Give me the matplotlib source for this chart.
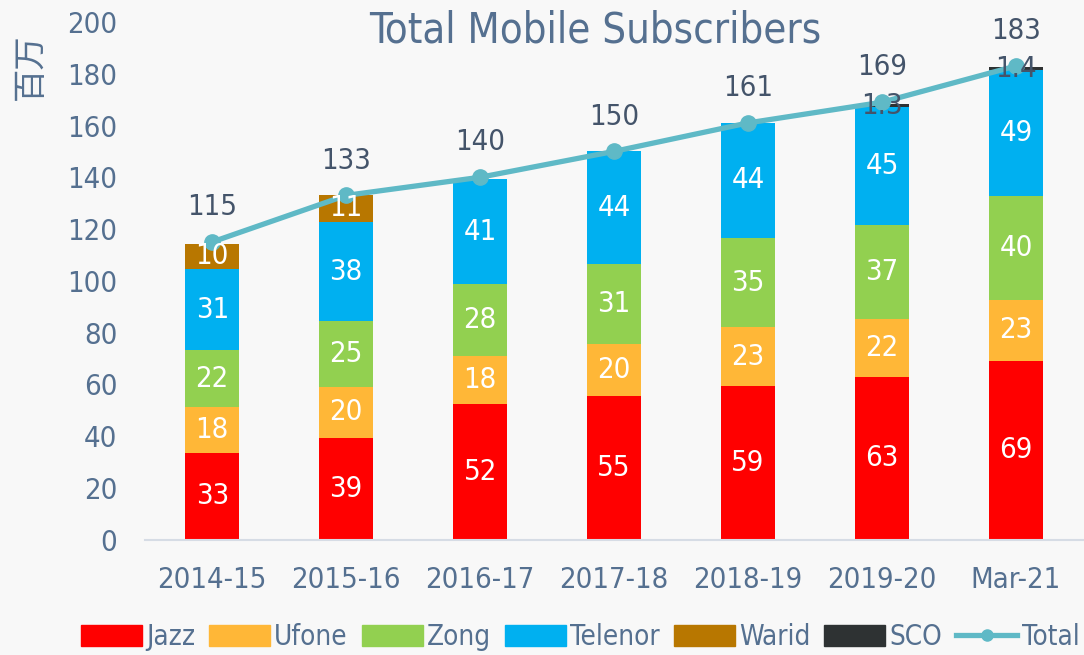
import numpy as np
import matplotlib
matplotlib.use('Agg')
import matplotlib.pyplot as plt
from matplotlib.lines import Line2D
from matplotlib.patches import Patch

plt.rcParams['font.family'] = ['DejaVu Sans', 'Noto Sans CJK SC']
plt.rcParams['font.stretch'] = 'condensed'

years = ['2014-15', '2015-16', '2016-17', '2017-18', '2018-19', '2019-20', 'Mar-21']
jazz = [33.4, 39.1, 52.4, 55.4, 59.3, 62.7, 69.1]
ufone = [17.8, 20.0, 18.4, 20.3, 22.7, 22.4, 23.4]
zong = [22.0, 25.2, 27.8, 30.8, 34.6, 36.6, 40.2]
telenor = [31.3, 38.4, 40.7, 43.6, 44.3, 45.3, 48.6]
warid = [9.8, 10.6, 0, 0, 0, 0, 0]
sco = [0, 0, 0, 0, 0, 1.3, 1.4]
total = [115, 133, 140, 150, 161, 169, 183]

series = [('Jazz', jazz, '#FF0000'), ('Ufone', ufone, '#FFB737'),
          ('Zong', zong, '#92D050'), ('Telenor', telenor, '#00B0F0'),
          ('Warid', warid, '#B87700'), ('SCO', sco, '#2E3233')]

txt = '#557090'
dark = '#44546A'

fig = plt.figure(figsize=(10.84, 6.55), dpi=100)
fig.patch.set_facecolor('#F8F8F8')
ax = fig.add_axes([0.134, 0.1763, 0.865, 0.7901])
ax.set_facecolor('#F8F8F8')

x = np.arange(len(years))
bottom = np.zeros(len(years))
for name, vals, col in series:
    vals = np.array(vals, dtype=float)
    ax.bar(x, vals, 0.4, bottom=bottom, color=col, zorder=2)
    for i, v in enumerate(vals):
        if v <= 0:
            continue
        if name == 'SCO':
            ax.text(x[i], bottom[i] + v / 2, '%.1f' % v, ha='center', va='center',
                    fontsize=21, color=dark, zorder=5)
        else:
            ax.text(x[i], bottom[i] + v / 2, '%.0f' % v, ha='center', va='center',
                    fontsize=21, color='white', zorder=5)
    bottom += vals

ax.plot(x, total, color='#5FB9C6', lw=3.8, marker='o', ms=11, zorder=4)
for i, t in enumerate(total):
    ax.annotate('%d' % t, (x[i], t), xytext=(0, 15), textcoords='offset points',
                ha='center', va='bottom', fontsize=21, color=dark)

ax.set_xlim(-0.5, len(years) - 0.5)
ax.set_ylim(0, 200)
ax.set_yticks(range(0, 201, 20))
ax.set_xticks(x)
ax.set_xticklabels(years)
ax.tick_params(axis='both', length=0, labelsize=21, labelcolor=txt)
ax.tick_params(axis='x', pad=19)
ax.tick_params(axis='y', pad=20)
for s in ['top', 'right', 'left']:
    ax.spines[s].set_visible(False)
ax.spines['bottom'].set_color('#D6DCE5')
ax.spines['bottom'].set_linewidth(1.5)

fig.text(0.549, 0.954, 'Total Mobile Subscribers', fontsize=30, color=txt,
         ha='center', va='center')
fig.text(0.028, 0.899, '百万', rotation=90, fontsize=24, color=txt,
         family=['Noto Sans CJK SC'], ha='center', va='center')

handles = [Patch(color=c, label=n) for n, _, c in series]
handles.append(Line2D([], [], color='#5FB9C6', lw=3.8, marker='o', ms=8, label='Total'))
fig.legend(handles=handles, loc='center', bbox_to_anchor=(0.535, 0.027), ncol=7,
           frameon=False, fontsize=20, labelcolor=txt, handlelength=2.2,
           handleheight=0.8, handletextpad=0.15, columnspacing=0.5)

fig.savefig('out.png', dpi=100, facecolor=fig.get_facecolor())
